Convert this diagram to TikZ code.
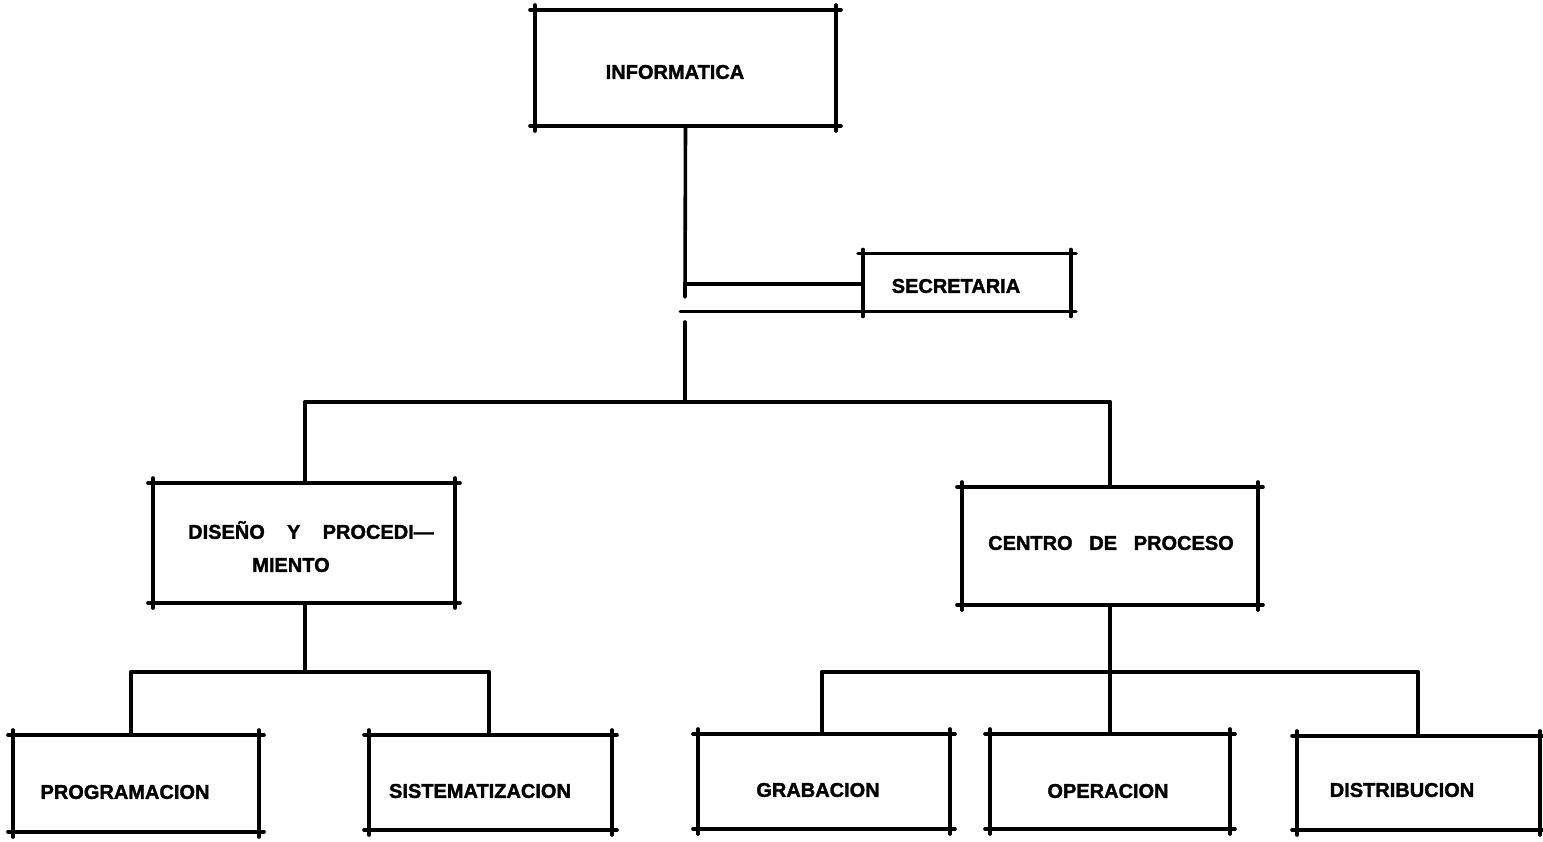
\documentclass[tikz,border=0pt]{standalone}
\usepackage{fontspec}
\setmainfont[BoldFeatures={FakeBold=1.6}]{Liberation Sans}
\begin{document}
\begin{tikzpicture}[x=1pt,y=-1pt,
  edge/.style={line width=3.6pt, line cap=round},
  box/.style={inner sep=0pt, outer sep=0pt},
  lbl/.style={font=\bfseries\fontsize{20}{23}\selectfont, inner sep=0pt, anchor=center}]
\useasboundingbox (0,0) rectangle (1543,842);

% hand-drawn frame: every edge runs a little past the corners
\newcommand{\orgbox}[1]{%
  \draw[edge] ([xshift=-5pt]#1.north west) -- ([xshift=5pt]#1.north east);
  \draw[edge] ([xshift=-5pt]#1.south west) -- ([xshift=5pt]#1.south east);
  \draw[edge] ([yshift=5pt]#1.north west) -- ([yshift=-5pt]#1.south west);
  \draw[edge] ([yshift=5pt]#1.north east) -- ([yshift=-5pt]#1.south east);}

% boxes
\node[box, minimum width=301, minimum height=116] (inf)  at (685.5,68)  {};
\node[box, minimum width=208, minimum height=59]  (sec)  at (967,283)   {};
\node[box, minimum width=302, minimum height=120] (dis)  at (304,543)   {};
\node[box, minimum width=296, minimum height=118] (cen)  at (1110,546)  {};
\node[box, minimum width=246, minimum height=97]  (prog) at (136,783.5) {};
\node[box, minimum width=243, minimum height=95]  (sist) at (490.5,782.5) {};
\node[box, minimum width=252, minimum height=95]  (grab) at (824,781.5) {};
\node[box, minimum width=240, minimum height=95]  (oper) at (1110,781.5) {};
\node[box, minimum width=243, minimum height=94]  (dist) at (1418.5,783) {};

\orgbox{inf}
\orgbox{dis}
\orgbox{cen}
\orgbox{prog}
\orgbox{sist}
\orgbox{grab}
\orgbox{oper}
\orgbox{dist}

% secretaria: open frame standing on the long rule
\draw[edge] ([xshift=-5pt]sec.north west) -- ([xshift=5pt]sec.north east);
\draw[edge] ([yshift=4pt]sec.north west) -- ([yshift=-4pt]sec.south west);
\draw[edge] ([yshift=4pt]sec.north east) -- ([yshift=-4pt]sec.south east);
\coordinate (rl) at (680,312);
\coordinate (rr) at (1076,312);
\draw[edge, line width=3pt] (rl) -- (rr);

% labels
\node[lbl] (tinf)  at (675,72)   {INFORMATICA};
\node[lbl] (tsec)  at (956,286)  {SECRETARIA};
\node[lbl] (tdis)  at (311,530)  {DISEÑO\ \ \ \ Y\ \ \ \ PROCEDI—};
\node[lbl] (tdis2) at (291,565)  {MIENTO};
\node[lbl] (tcen)  at (1111,543) {CENTRO\ \ \ DE\ \ \ PROCESO};
\node[lbl] (tprog) at (125,792)  {PROGRAMACION};
\node[lbl] (tsist) at (480,791)  {SISTEMATIZACION};
\node[lbl] (tgrab) at (818,790)  {GRABACION};
\node[lbl] (toper) at (1108,791) {OPERACION};
\node[lbl] (tdist) at (1402,790) {DISTRIBUCION};

% junction points
\coordinate (ja) at (685,297);
\coordinate (js) at (685,284);
\coordinate (jb) at (685,322);
\coordinate (jc) at (685,402);
\coordinate (jl) at (305,402);
\coordinate (jr) at (1110,402);
\coordinate (kl) at (305,672);
\coordinate (kl1) at (131,672);
\coordinate (kl2) at (489,672);
\coordinate (kr) at (1110,672);
\coordinate (kr1) at (822,672);
\coordinate (kr2) at (1418,672);

% connectors
\draw[edge] (inf.south) -- (ja);
\draw[edge] (js) -- (js -| sec.west);
\draw[edge] (jb) -- (jc);
\draw[edge] (jl) -- (jr);
\draw[edge] (jl) -- (jl |- dis.north);
\draw[edge] (jr) -- (cen.north);

\draw[edge] (kl |- dis.south) -- (kl);
\draw[edge] (kl1) -- (kl2);
\draw[edge] (kl1) -- (kl1 |- prog.north);
\draw[edge] (kl2) -- (kl2 |- sist.north);

\draw[edge] (cen.south) -- (oper.north);
\draw[edge] (kr1) -- (kr2);
\draw[edge] (kr1) -- (kr1 |- grab.north);
\draw[edge] (kr2) -- (kr2 |- dist.north);
\end{tikzpicture}
\end{document}
